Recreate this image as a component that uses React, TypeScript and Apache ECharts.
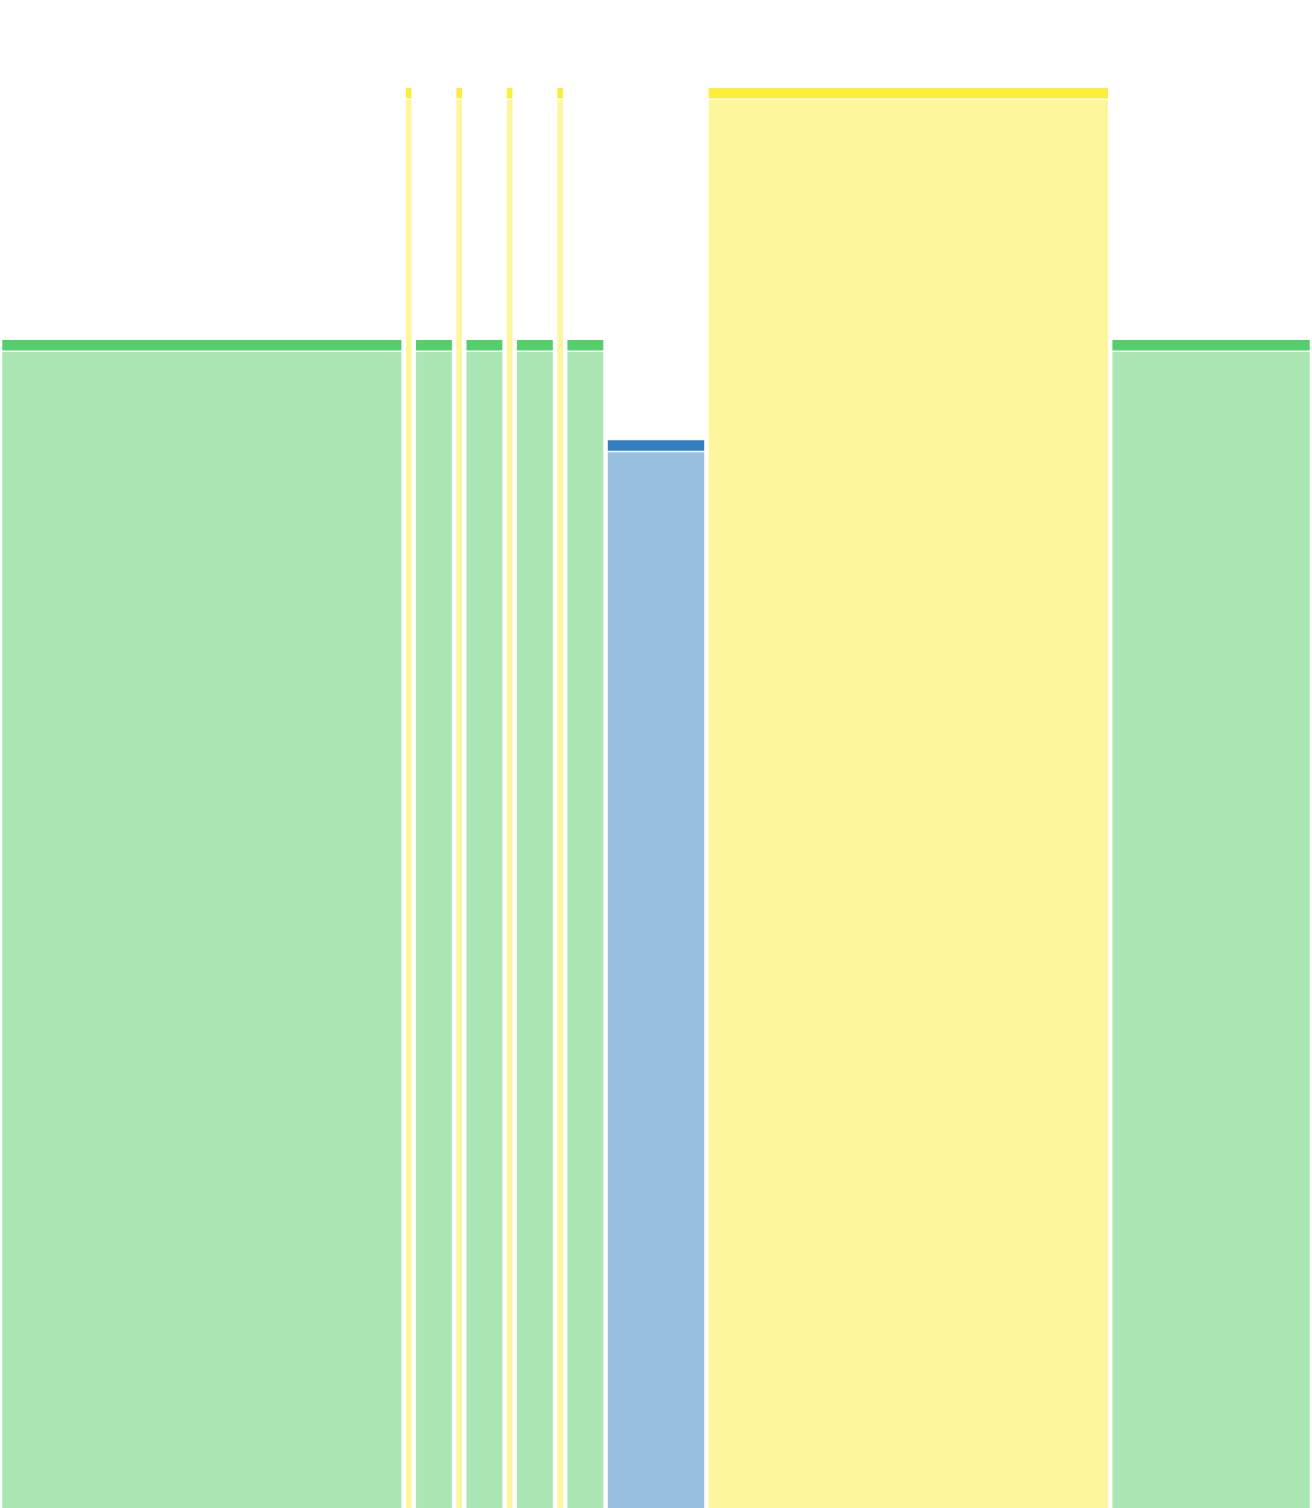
import React, { useEffect, useRef } from "react";
import * as echarts from "echarts";

// segment widths along the x axis (units), in drawing order
const segmentWidths = [400, 10, 40, 10, 40, 10, 40, 10, 40, 100, 400, 200];
// bar heights
const segmentValues = [82.25, 100, 82.25, 100, 82.25, 100, 82.25, 100, 82.25, 75.2, 100, 82.25];
// colour group of each segment
const segmentGroups = [
  "green", "yellow", "green", "yellow", "green", "yellow",
  "green", "yellow", "green", "blue", "yellow", "green",
];

const groupNames = ["green", "yellow", "blue"];
const groupColors = ["#55CF6B", "#FCEE3A", "#317FC0"];

const App = () => {
  const chartContainer = useRef<HTMLDivElement>(null);
  const myChart = useRef<echarts.ECharts | null>(null);

  useEffect(() => {
    document.body.style.margin = "0";
    if (!chartContainer.current) return;
    myChart.current = echarts.init(chartContainer.current, null, { renderer: "svg" });

    let start = 0;
    const data = segmentWidths.map((w, i) => {
      const item = [start, start + w, segmentValues[i], groupNames.indexOf(segmentGroups[i])];
      start += w;
      return item;
    });
    const total = start;

    const option: echarts.EChartsOption = {
      animation: false,
      grid: { left: 0, right: 0, top: 88, bottom: 0 },
      xAxis: { type: "value", min: 0, max: total, show: false },
      yAxis: { type: "value", min: 0, max: 100, show: false },
      series: [
        {
          type: "custom",
          data,
          renderItem: (params: any, api: any) => {
            const x0 = api.value(0);
            const x1 = api.value(1);
            const v = api.value(2);
            const color = groupColors[api.value(3)];
            const topLeft = api.coord([x0, v]);
            const bottomRight = api.coord([x1, 0]);
            const x = topLeft[0] + 2.25;
            const w = bottomRight[0] - topLeft[0] - 4.5;
            const y = topLeft[1];
            const h = bottomRight[1] - topLeft[1];
            return {
              type: "group",
              children: [
                {
                  type: "rect",
                  shape: { x, y: y + 12, width: w, height: h - 12 },
                  style: { fill: color, opacity: 0.5 },
                },
                {
                  type: "rect",
                  shape: { x, y, width: w, height: 10.5 },
                  style: { fill: color },
                },
              ],
            };
          },
        },
      ],
    };

    myChart.current.setOption(option);

    return () => {
      myChart.current?.dispose();
    };
  }, []);

  return <div ref={chartContainer} style={{ width: 1312, height: 1508 }} />;
};

export default App;
